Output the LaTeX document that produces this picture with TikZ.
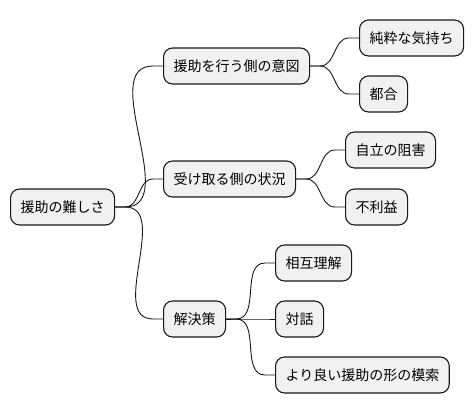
\documentclass[tikz,border=0pt]{standalone}
\usepackage{fontspec}
\newfontfamily\cjk{Noto Sans CJK JP}
\definecolor{boxfill}{HTML}{F1F1F1}
\definecolor{boxline}{HTML}{181818}
\tikzset{
  topic/.style={draw=boxline, fill=boxfill, rounded corners=9pt, line width=1.1pt,
    minimum height=36pt, inner xsep=10pt, anchor=west,
    font=\cjk\fontsize{14}{16}\selectfont},
  branch/.style={draw=boxline, line width=0.9pt}
}
\begin{document}
\begin{tikzpicture}[x=1pt, y=-1pt]
    \useasboundingbox (0,0) rectangle (474,415);
    \node[topic] (root) at (10, 207) {援助の難しさ};
    \node[topic] (intent) at (163, 66) {援助を行う側の意図};
    \node[topic] (state) at (163, 179) {受け取る側の状況};
    \node[topic] (solve) at (163, 319) {解決策};
    \node[topic] (pure) at (359, 38) {純粋な気持ち};
    \node[topic] (conv) at (359, 94) {都合};
    \node[topic] (indep) at (345, 150) {自立の阻害};
    \node[topic] (loss) at (345, 207) {不利益};
    \node[topic] (mutual) at (275, 263) {相互理解};
    \node[topic] (talk) at (275, 319) {対話};
    \node[topic] (better) at (275, 375) {より良い援助の形の模索};
    \foreach \p/\c in {root/intent, root/state, root/solve, intent/pure, intent/conv,
        state/indep, state/loss, solve/mutual, solve/talk, solve/better}
        \draw[branch] (\p.east) -- ++(10,0) to[out=0, in=180] ([xshift=-10pt]\c.west) -- (\c.west);
\end{tikzpicture}
\end{document}
